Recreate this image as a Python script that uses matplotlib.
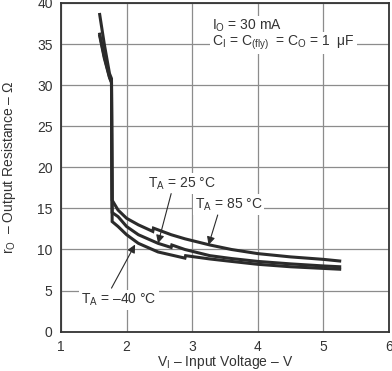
import matplotlib
matplotlib.use("Agg")
import matplotlib.pyplot as plt

plt.rcParams['font.family'] = ['Liberation Sans', 'DejaVu Sans']
plt.rcParams['mathtext.fontset'] = 'custom'
plt.rcParams['mathtext.rm'] = 'Liberation Sans'
plt.rcParams['mathtext.it'] = 'Liberation Sans'

# curves
x_85 = [1.59, 1.66, 1.74, 1.77, 1.775, 1.78, 1.87, 2.0, 2.18, 2.40, 2.41, 2.68, 2.89, 3.27, 3.6, 4.0, 4.5, 5.0, 5.25]
y_85 = [38.6, 35.0, 31.4, 30.8, 22.0, 16.0, 14.8, 13.8, 13.0, 12.2, 12.6, 11.8, 11.3, 10.55, 10.0, 9.5, 9.1, 8.8, 8.6]

x_25 = [1.59, 1.66, 1.74, 1.77, 1.775, 1.78, 1.87, 2.0, 2.18, 2.48, 2.68, 2.69, 2.89, 3.27, 3.6, 4.0, 4.5, 5.0, 5.25]
y_25 = [36.2, 33.5, 31.0, 30.4, 22.0, 14.5, 14.0, 12.8, 11.8, 10.75, 10.25, 10.55, 10.0, 9.25, 8.9, 8.55, 8.25, 8.0, 7.9]

x_m40 = [1.59, 1.66, 1.74, 1.77, 1.775, 1.78, 1.87, 2.0, 2.18, 2.48, 2.89, 2.90, 3.27, 3.6, 4.0, 4.5, 5.0, 5.25]
y_m40 = [36.0, 33.3, 30.9, 30.3, 22.0, 13.4, 12.8, 11.8, 10.75, 9.7, 8.95, 9.25, 8.85, 8.55, 8.2, 7.9, 7.7, 7.6]

x_ticks = [1, 2, 3, 4, 5, 6]
y_ticks = [0, 5, 10, 15, 20, 25, 30, 35, 40]

fig = plt.figure(figsize=(3.92, 3.71), dpi=100)
ax = fig.add_axes([0.1556, 0.106, 0.8364, 0.886])

ink = '#2b2b2b'
for xs, ys in [(x_85, y_85), (x_25, y_25), (x_m40, y_m40)]:
    ax.plot(xs, ys, color=ink, lw=2.2, solid_joinstyle='miter', zorder=3)

ax.set_xlim(1, 6)
ax.set_ylim(0, 40)
ax.set_xticks(x_ticks)
ax.set_yticks(y_ticks)
ax.grid(True, color='#8c8c8c', lw=0.9, zorder=0)
ax.set_axisbelow(True)
ax.tick_params(length=0, labelsize=10, colors='#333333', pad=6)
for s in ax.spines.values():
    s.set_color('#333333')
    s.set_linewidth(1.3)

ax.set_xlabel(r'V$_\mathregular{I}$ – Input Voltage – V', fontsize=10, color='#333333', labelpad=-1)
ax.set_ylabel(r'r$_\mathregular{O}$  – Output Resistance – Ω', fontsize=10, color='#333333', labelpad=14)

box = dict(facecolor='white', edgecolor='none', pad=1.5)
ax.text(3.31, 37.2, r'I$_\mathregular{O}$ = 30 mA', fontsize=10, color='#333333', va='center', bbox=box)
ax.text(3.31, 35.1, r'C$_\mathregular{I}$ = C$_\mathregular{(fly)}$  = C$_\mathregular{O}$ = 1  μF',
        fontsize=10, color='#333333', va='center', bbox=box)

arrow = dict(arrowstyle='-|>', color=ink, lw=0.8, mutation_scale=12, shrinkA=0, shrinkB=0)
ax.annotate(r'T$_\mathregular{A}$ = 25 °C', xy=(2.48, 10.75), xytext=(2.33, 18.0),
            fontsize=10, color='#333333', va='center', bbox=box, zorder=4)
ax.annotate('', xy=(2.48, 10.75), xytext=(2.68, 16.8), arrowprops=arrow, zorder=4)

ax.annotate(r'T$_\mathregular{A}$ = 85 °C', xy=(3.25, 10.55), xytext=(3.04, 15.5),
            fontsize=10, color='#333333', va='center', bbox=box, zorder=4)
ax.annotate('', xy=(3.25, 10.55), xytext=(3.39, 14.2), arrowprops=arrow, zorder=4)

ax.annotate(r'T$_\mathregular{A}$ = –40 °C', xy=(2.13, 10.6), xytext=(1.31, 3.85),
            fontsize=10, color='#333333', va='center', bbox=box, zorder=4)
ax.annotate('', xy=(2.13, 10.6), xytext=(1.77, 5.3), arrowprops=arrow, zorder=4)

fig.savefig('out.png', dpi=100)
